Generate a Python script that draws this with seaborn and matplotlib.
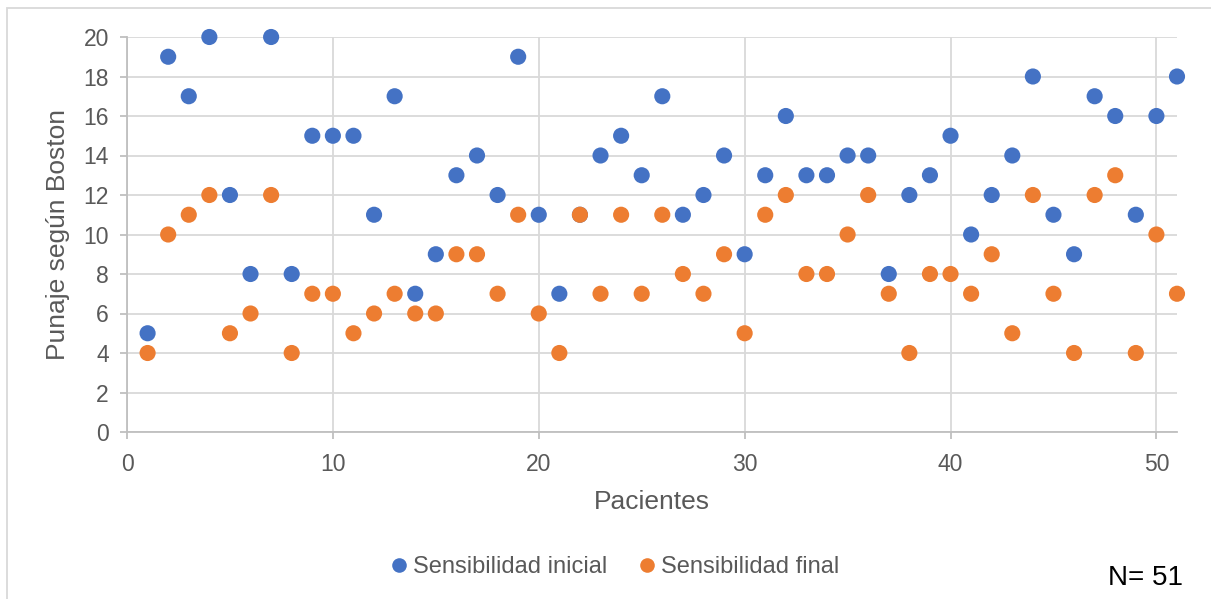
import numpy as np
import pandas as pd
import matplotlib
matplotlib.use("Agg")
import matplotlib.pyplot as plt
from matplotlib.lines import Line2D
from matplotlib.patches import Rectangle
import seaborn as sns

# Puntaje según la escala de Boston por paciente
pacientes = list(range(1, 52))
sensibilidad_inicial = [5, 19, 17, 20, 12, 8, 20, 8, 15, 15, 15, 11, 17, 7, 9, 13, 14, 12, 19, 11,
                        7, 11, 14, 15, 13, 17, 11, 12, 14, 9, 13, 16, 13, 13, 14, 14, 8, 12, 13, 15,
                        10, 12, 14, 18, 11, 9, 17, 16, 11, 16, 18]
sensibilidad_final = [4, 10, 11, 12, 5, 6, 12, 4, 7, 7, 5, 6, 7, 6, 6, 9, 9, 7, 11, 6,
                      4, 11, 7, 11, 7, 11, 8, 7, 9, 5, 11, 12, 8, 8, 10, 12, 7, 4, 8, 8,
                      7, 9, 5, 12, 7, 4, 12, 13, 4, 10, 7]
series = ["Sensibilidad inicial", "Sensibilidad final"]
colores = ["#4472C4", "#ED7D31"]
x_ticks = [0, 10, 20, 30, 40, 50]
y_ticks = list(range(0, 21, 2))

df = pd.DataFrame({
    "Pacientes": pacientes * 2,
    "Puntaje": sensibilidad_inicial + sensibilidad_final,
    "Serie": [series[0]] * len(pacientes) + [series[1]] * len(pacientes),
})

sns.set_theme(style="white")
plt.rcParams["font.family"] = ["Liberation Sans", "DejaVu Sans"]

W, H = 1211, 599
fig = plt.figure(figsize=(W / 100, H / 100), dpi=100)
ax = fig.add_axes([127 / W, 1 - 432 / H, (1177 - 127) / W, (432 - 37) / H])

sns.scatterplot(data=df, x="Pacientes", y="Puntaje", hue="Serie", hue_order=series,
                palette=colores, s=135, linewidth=0, ax=ax, legend=False,
                clip_on=False, zorder=3)

text_color = "#595959"
grid_color = "#d9d9d9"
ax.set_xlim(0, 51)
ax.set_ylim(0, 20)
ax.set_xticks(x_ticks)
ax.set_yticks(y_ticks)
ax.grid(True, color=grid_color, linewidth=1.3, zorder=0)
ax.set_axisbelow(True)
for side in ["top", "right"]:
    ax.spines[side].set_visible(False)
for side in ["left", "bottom"]:
    ax.spines[side].set_color("#bfbfbf")
    ax.spines[side].set_linewidth(1.3)
ax.tick_params(axis="both", which="major", direction="out", length=5, width=1.3,
               color="#bfbfbf", labelsize=16.5, labelcolor=text_color,
               left=True, bottom=True)
ax.tick_params(axis="x", pad=10)
ax.tick_params(axis="y", pad=8)
ax.set_xlabel("Pacientes", fontsize=19, color=text_color, labelpad=10)
ax.set_ylabel("Punaje según Boston", fontsize=19, color=text_color, labelpad=10)

handles = [Line2D([], [], marker="o", linestyle="", markersize=10.5, markeredgewidth=0,
                  color=c) for c in colores]
fig.legend(handles, series, loc="center", bbox_to_anchor=(612 / W, 1 - 567 / H),
           ncol=2, frameon=False, fontsize=17, labelcolor=text_color,
           handletextpad=0.0, columnspacing=1.1, handlelength=1.2)

fig.text(1183 / W, 1 - 578 / H, "N= 51", fontsize=20, color="black",
         ha="right", va="center")

# Borde del área del gráfico
fig.add_artist(Rectangle((7 / W, -0.1), 1.2, 1 - 8 / H + 0.1, transform=fig.transFigure,
                         fill=False, edgecolor=grid_color, linewidth=1.3, clip_on=False))

fig.savefig("out.png", dpi=100, facecolor="white")
